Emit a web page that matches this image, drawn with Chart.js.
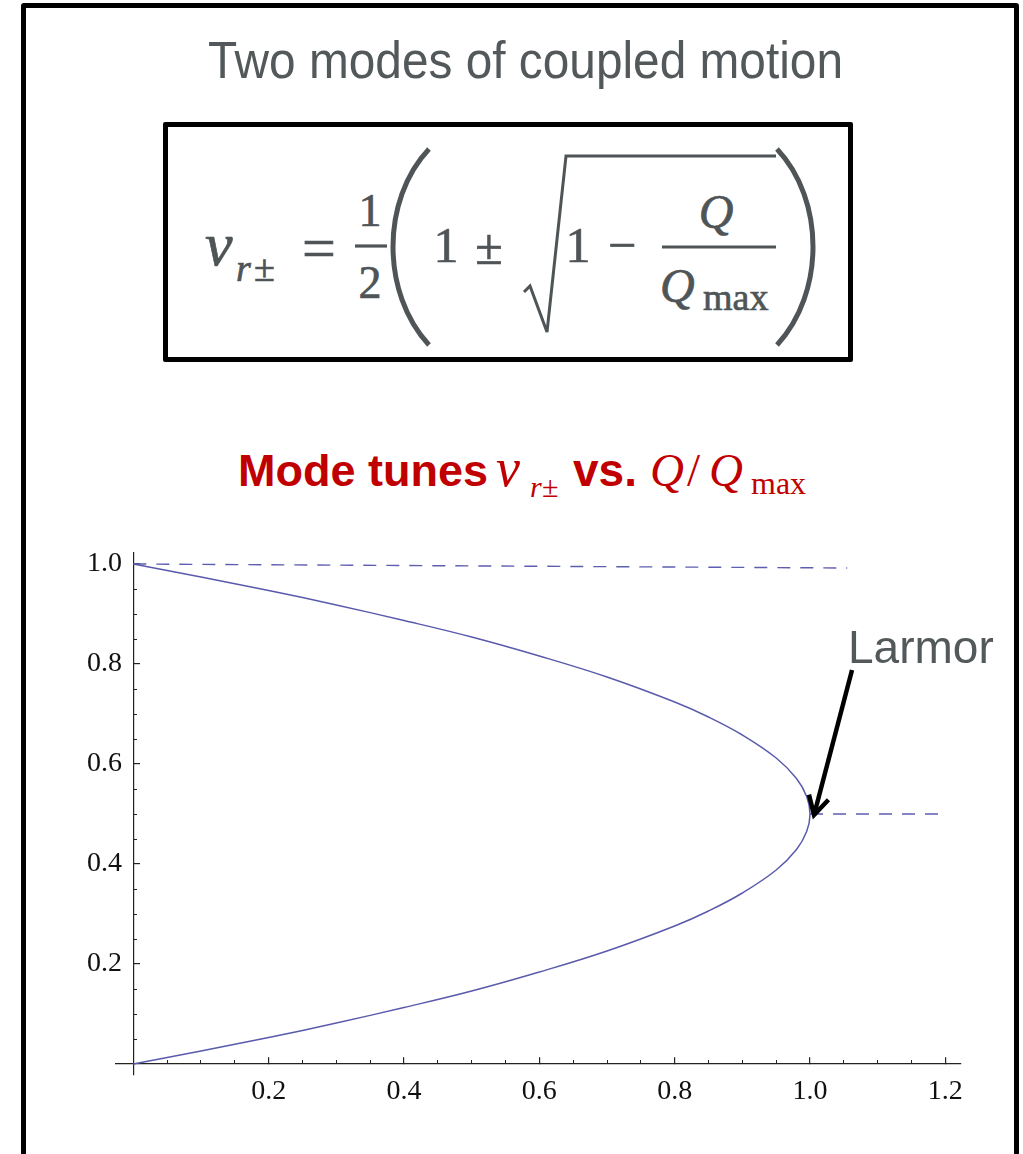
<!DOCTYPE html>
<html lang="en">
<head>
<meta charset="UTF-8" />
<title>Two modes of coupled motion</title>
<style>
  html, body {
    margin: 0; padding: 0;
    background: #fff;
    width: 1023px; height: 1154px;
    overflow: hidden;
  }
  .page {
    position: relative;
    width: 1023px; height: 1154px;
  }
  .frame {
    position: absolute;
    left: 21px; top: 3px;
    width: 998px; height: 1200px;
    box-sizing: border-box;
    border: 5px solid #000;
    border-radius: 3px;
  }
  .eqbox {
    position: absolute;
    left: 163px; top: 122px;
    width: 690px; height: 240px;
    box-sizing: border-box;
    border: 5px solid #000;
    border-radius: 2px;
  }
  svg.text {
    position: absolute; left: 0; top: 0;
  }
  #chartWrap {
    position: absolute;
    left: 0; top: 520px;
    width: 1023px; height: 620px;
  }
</style>
</head>
<body>
<div class="page">
  <div class="frame"></div>
  <div class="eqbox"></div>

  <svg class="text" width="1023" height="520" xmlns="http://www.w3.org/2000/svg">
    <!-- slide heading -->
    <text x="208" y="78" font-family="Liberation Sans, Arial, sans-serif" font-size="52"
          fill="#53585a" textLength="635" lengthAdjust="spacingAndGlyphs">Two modes of coupled motion</text>

    <!-- boxed formula -->
    <g fill="#4f5557" stroke="#4f5557" stroke-width="0.7" font-family="Liberation Serif, Times New Roman, serif">
      <text x="205" y="265" font-size="62" font-style="italic">ν</text>
      <text x="236" y="281" font-size="38" font-style="italic">r</text>
      <text x="254" y="281" font-size="38">±</text>
      <text x="302" y="268" font-size="60">=</text>
      <text x="370" y="226" font-size="46" text-anchor="middle">1</text>
      <text x="370" y="298" font-size="46" text-anchor="middle">2</text>
      <text x="446" y="262" font-size="50" text-anchor="middle">1</text>
      <text x="489" y="264" font-size="50" text-anchor="middle">±</text>
      <text x="578" y="262" font-size="50" text-anchor="middle">1</text>
      <text x="622" y="262" font-size="50" text-anchor="middle">−</text>
      <text x="716" y="228" font-size="48" text-anchor="middle" font-style="italic">Q</text>
      <text x="660" y="302" font-size="48" font-style="italic">Q</text>
      <text x="703" y="310" font-size="38">max</text>
    </g>
    <g stroke="#4f5557" fill="none">
      <line x1="355" y1="246" x2="387" y2="246" stroke-width="3.2" />
      <line x1="662" y1="247" x2="776" y2="247" stroke-width="3.2" />
      <path d="M429,149 C381,200 381,293 429,345" stroke-width="5" />
      <path d="M777,149 C825,200 825,293 777,345" stroke-width="5" />
      <path d="M524,292 L530,286 L547,332 L566,156 L776,156" stroke-width="3" stroke-linejoin="miter" />
    </g>

    <!-- chart heading -->
    <g fill="#c00000">
      <text x="238" y="486" font-family="Liberation Sans, Arial, sans-serif" font-size="45" font-weight="bold">Mode tunes</text>
      <text x="496" y="486" font-family="Liberation Serif, serif" font-size="54" font-style="italic">ν</text>
      <text x="530" y="497" font-family="Liberation Serif, serif" font-size="30" font-style="italic">r</text>
      <text x="542" y="497" font-family="Liberation Serif, serif" font-size="30">±</text>
      <text x="573" y="486" font-family="Liberation Sans, Arial, sans-serif" font-size="46" font-weight="bold">vs.</text>
      <text x="650" y="486" font-family="Liberation Serif, serif" font-size="47" font-style="italic">Q</text>
      <text x="687" y="486" font-family="Liberation Serif, serif" font-size="47">/</text>
      <text x="709" y="486" font-family="Liberation Serif, serif" font-size="47" font-style="italic">Q</text>
      <text x="751" y="494" font-family="Liberation Serif, serif" font-size="32">max</text>
    </g>
  </svg>

  <div id="chartWrap"><canvas id="tuneChart" width="1023" height="620"></canvas></div>
</div>

<script src="https://cdn.jsdelivr.net/npm/chart.js"></script>
<script>
  // Q / Qmax along each branch
  const qRatio = [0, 0.1, 0.2, 0.3, 0.4, 0.5, 0.6, 0.7, 0.8, 0.85, 0.9, 0.95, 0.98, 0.995, 1.0];
  // lower and upper mode tunes at those Q / Qmax
  const tuneMinus = [0, 0.026, 0.053, 0.082, 0.113, 0.146, 0.184, 0.226, 0.276, 0.306, 0.342, 0.388, 0.429, 0.465, 0.5];
  const tunePlus  = [1.0, 0.974, 0.947, 0.918, 0.887, 0.854, 0.816, 0.774, 0.724, 0.694, 0.658, 0.612, 0.571, 0.535, 0.5];

  // dashed guide lines: top reference and the Larmor level
  const topGuideX = [0, 1.055];
  const topGuideY = [1.0, 0.992];
  const larmorX = [1.0, 1.2];
  const larmorY = [0.5, 0.5];

  const xTicks = [0.2, 0.4, 0.6, 0.8, 1.0, 1.2];
  const yTicks = [0.2, 0.4, 0.6, 0.8, 1.0];
  const xMinorTicks = [0.05, 0.1, 0.15, 0.25, 0.3, 0.35, 0.45, 0.5, 0.55, 0.65, 0.7, 0.75, 0.85, 0.9, 0.95, 1.05, 1.1, 1.15];
  const yMinorTicks = [0.05, 0.1, 0.15, 0.25, 0.3, 0.35, 0.45, 0.5, 0.55, 0.65, 0.7, 0.75, 0.85, 0.9, 0.95];

  const X_MIN = -0.0256, X_MAX = 1.2231;
  const Y_MIN = -0.022, Y_MAX = 1.022;

  const toPoints = (xs, ys) => xs.map((v, i) => ({ x: v, y: ys[i] }));

  // one path: lower branch out to the turning point, upper branch back
  const curve = toPoints(qRatio, tuneMinus)
    .concat(toPoints(qRatio, tunePlus).reverse().slice(1));

  const curveBlue = '#5a5aac';
  const axisInk = '#222';
  const tickFont = { family: "'Liberation Serif', 'Times New Roman', serif", size: 28 };

  const fixedTicks = list => scale => { scale.ticks = list.map(v => ({ value: v })); };

  // arrow + label pointing at the turning point
  const larmorNote = {
    id: 'larmorNote',
    afterDatasetsDraw(chart) {
      const { ctx, scales: { x, y } } = chart;
      const tipX = x.getPixelForValue(larmorX[0]) + 4;
      const tipY = y.getPixelForValue(larmorY[0]) + 1;
      const sx = tipX + 38, sy = tipY - 145;
      const ang = Math.atan2(tipY - sy, tipX - sx);
      const head = 21, spread = 0.5;
      ctx.save();
      ctx.strokeStyle = '#000';
      ctx.lineWidth = 4.5;
      ctx.lineCap = 'butt';
      ctx.beginPath();
      ctx.moveTo(sx, sy);
      ctx.lineTo(tipX, tipY);
      ctx.stroke();
      ctx.lineJoin = 'miter';
      ctx.beginPath();
      ctx.moveTo(tipX - head * Math.cos(ang - spread), tipY - head * Math.sin(ang - spread));
      ctx.lineTo(tipX, tipY);
      ctx.lineTo(tipX - head * Math.cos(ang + spread), tipY - head * Math.sin(ang + spread));
      ctx.stroke();
      ctx.fillStyle = '#53585a';
      ctx.font = "46px 'Liberation Sans', Arial, sans-serif";
      ctx.textAlign = 'left';
      ctx.textBaseline = 'alphabetic';
      ctx.fillText('Larmor', tipX + 34, tipY - 152);
      ctx.restore();
    }
  };

  const ctx = document.getElementById('tuneChart').getContext('2d');
  new Chart(ctx, {
    type: 'scatter',
    data: {
      datasets: [
        {
          data: curve,
          showLine: true,
          borderColor: curveBlue,
          borderWidth: 1.5,
          pointRadius: 0,
          tension: 0.4,
        },
        {
          data: toPoints(topGuideX, topGuideY),
          showLine: true,
          borderColor: '#5e5eb0',
          borderWidth: 1.4,
          borderDash: [13, 10],
          pointRadius: 0,
        },
        {
          data: toPoints(larmorX, larmorY),
          showLine: true,
          borderColor: '#5e5eb0',
          borderWidth: 1.4,
          borderDash: [13, 10],
          pointRadius: 0,
        },
      ]
    },
    options: {
      responsive: false,
      animation: false,
      devicePixelRatio: 1,
      layout: { padding: { left: 116, right: 62, top: 33, bottom: 65 } },
      plugins: {
        legend: { display: false },
        tooltip: { enabled: false },
      },
      scales: {
        x: {
          type: 'linear',
          min: X_MIN, max: X_MAX,
          position: { y: 0 },
          afterBuildTicks: fixedTicks(xTicks),
          border: { color: axisInk, width: 1.2 },
          grid: { drawOnChartArea: false, tickLength: -7, color: axisInk, lineWidth: 1.2 },
          ticks: {
            padding: 18,
            color: '#111',
            font: tickFont,
            maxRotation: 0,
            autoSkip: false,
            callback: v => v.toFixed(1),
          },
        },
        y: {
          type: 'linear',
          min: Y_MIN, max: Y_MAX,
          position: { x: 0 },
          afterBuildTicks: fixedTicks(yTicks),
          border: { color: axisInk, width: 1.2 },
          grid: { drawOnChartArea: false, tickLength: -7, color: axisInk, lineWidth: 1.2 },
          ticks: {
            color: '#111',
            font: tickFont,
            autoSkip: false,
            callback: v => v.toFixed(1) + '\u2009\u2009',
          },
        },
        xMinor: {
          type: 'linear', axis: 'x',
          min: X_MIN, max: X_MAX,
          position: { y: 0 },
          afterBuildTicks: fixedTicks(xMinorTicks),
          border: { display: false },
          grid: { drawOnChartArea: false, tickLength: -4, color: axisInk, lineWidth: 1 },
          ticks: { display: false },
        },
        yMinor: {
          type: 'linear', axis: 'y',
          min: Y_MIN, max: Y_MAX,
          position: { x: 0 },
          afterBuildTicks: fixedTicks(yMinorTicks),
          border: { display: false },
          grid: { drawOnChartArea: false, tickLength: -4, color: axisInk, lineWidth: 1 },
          ticks: { display: false },
        },
      }
    },
    plugins: [larmorNote]
  });
</script>
</body>
</html>
